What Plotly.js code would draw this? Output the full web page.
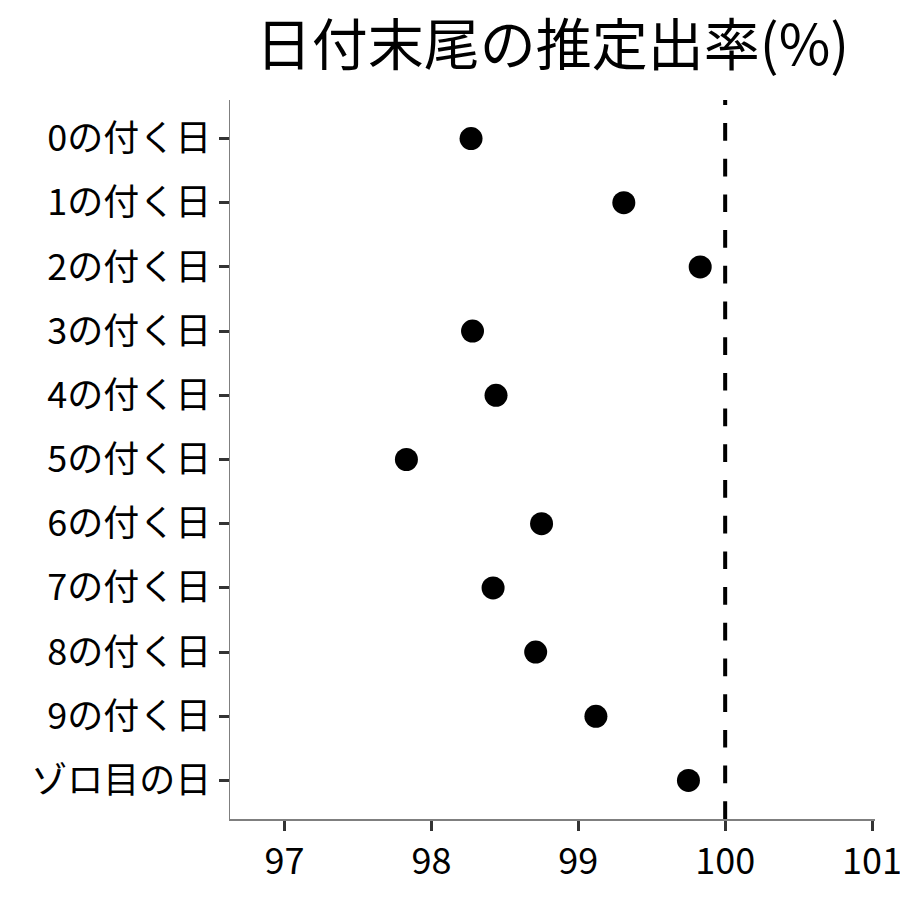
<!DOCTYPE html>
<html>
<head>
<meta charset="utf-8">
<script src="https://cdn.plot.ly/plotly-3.0.1.min.js"></script>
<style>html,body{margin:0;padding:0;background:#fff;}#chart{width:900px;height:900px;}</style>
</head>
<body>
<div id="chart"></div>
<script>
const categories = ["0の付く日","1の付く日","2の付く日","3の付く日","4の付く日","5の付く日","6の付く日","7の付く日","8の付く日","9の付く日","ゾロ目の日"];
const rates = [98.27, 99.31, 99.83, 98.28, 98.44, 97.83, 98.75, 98.42, 98.71, 99.12, 99.75];
const referenceRate = 100;
const xTicks = [97, 98, 99, 100, 101];
const titleText = "日付末尾の推定出率(%)";

const font = "Noto Sans CJK JP, Noto Sans, sans-serif";

const trace = {
  type: "scatter",
  mode: "markers",
  x: rates,
  y: categories,
  marker: {color: "#000000", size: 23},
  hoverinfo: "x+y"
};

const layout = {
  width: 900, height: 900,
  paper_bgcolor: "#ffffff", plot_bgcolor: "#ffffff",
  margin: {l: 230, r: 25, t: 100, b: 81},
  showlegend: false,
  font: {family: font, color: "#000000"},
  title: {
    text: titleText,
    font: {family: font, size: 56, color: "#000000"},
    x: 0.5, xref: "paper", xanchor: "center",
    y: 1 - 45/900, yref: "container", yanchor: "middle"
  },
  xaxis: {
    range: [96.629, 101.02],
    tickvals: xTicks,
    ticktext: xTicks.map(String),
    ticklabeloverflow: "allow",
    showgrid: false, zeroline: false,
    showline: true, linecolor: "#7f7f7f", linewidth: 1.5,
    ticks: "outside", ticklen: 10, tickwidth: 3, tickcolor: "#333333",
    tickfont: {family: font, size: 36, color: "#000000"}
  },
  yaxis: {
    type: "category",
    categoryorder: "array", categoryarray: categories,
    range: [categories.length - 0.4, -0.6],
    showgrid: false, zeroline: false,
    showline: true, linecolor: "#7f7f7f", linewidth: 1.5,
    ticks: "outside", ticklen: 10, tickwidth: 3, tickcolor: "#333333",
    tickfont: {family: font, size: 36, color: "#000000"}
  },
  shapes: [{
    type: "line", xref: "x", yref: "y domain",
    x0: referenceRate, x1: referenceRate, y0: 0, y1: 1,
    line: {color: "#000000", width: 4, dash: "17.7px,18px"}
  }]
};

Plotly.newPlot("chart", [trace], layout, {displayModeBar: false, staticPlot: true});
</script>
</body>
</html>
